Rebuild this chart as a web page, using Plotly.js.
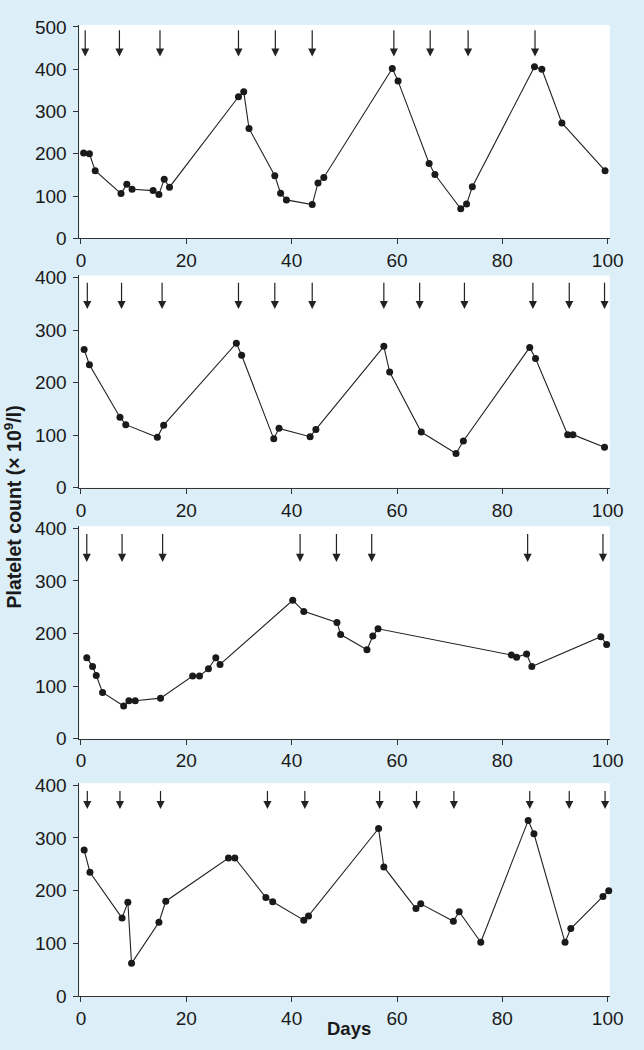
<!DOCTYPE html>
<html>
<head>
<meta charset="utf-8">
<script src="https://cdn.plot.ly/plotly-3.0.1.min.js"></script>
<style>html,body{margin:0;padding:0;background:#dceef7;}#chart{width:644px;height:1050px;}</style>
</head>
<body>
<div id="chart"></div>
<script>
// ---- data (days, platelet counts x10^9/l, arrow days) ----
const p1Days = [0.5,1.6,2.7,7.6,8.7,9.7,13.7,14.8,15.8,16.8,29.9,30.9,31.9,36.8,37.9,39.0,43.9,45.0,46.1,59.1,60.2,66.1,67.2,72.1,73.2,74.3,86.1,87.5,91.3,99.5];
const p1Vals = [202,200,160,106,128,116,113,104,140,121,335,347,260,148,107,91,80,131,144,402,372,177,151,70,81,122,406,400,273,160];
const p1Arrows = [0.8,7.3,15.0,29.9,36.9,43.9,59.4,66.3,73.5,86.2];

const p2Days = [0.6,1.6,7.4,8.5,14.5,15.7,29.5,30.5,36.6,37.6,43.5,44.6,57.5,58.6,64.6,71.2,72.6,85.2,86.3,92.4,93.4,99.4];
const p2Vals = [263,234,134,120,96,119,275,252,93,113,97,111,269,220,106,65,89,267,246,101,101,77];
const p2Arrows = [1.2,7.7,15.4,29.9,36.8,43.9,57.5,64.3,72.8,85.8,92.7,99.4];

const p3Days = [1.1,2.2,2.9,4.1,8.1,9.1,10.3,15.1,21.2,22.5,24.2,25.6,26.4,40.2,42.3,48.6,49.3,54.3,55.4,56.4,81.7,82.7,84.6,85.6,98.7,99.8];
const p3Vals = [154,137,120,88,62,72,72,77,119,119,133,154,141,263,242,221,198,169,195,209,159,155,161,137,194,179];
const p3Arrows = [1.1,7.8,15.5,41.6,48.5,55.2,84.8,99.1];

const p4Days = [0.6,1.7,7.8,8.9,9.6,14.8,16.1,28.0,29.2,35.1,36.4,42.3,43.2,56.5,57.5,63.6,64.5,70.7,71.8,75.9,84.9,86.0,91.9,93.0,99.1,100.2];
const p4Vals = [277,235,148,178,62,140,180,262,262,187,179,144,152,318,245,166,175,142,160,102,333,308,102,128,189,200];
const p4Arrows = [1.2,7.4,15.1,35.4,42.5,56.7,63.7,70.8,85.2,92.7,99.5];

// arrow tail/tip levels per panel
const arrowTail = [496, 393, 392, 392];
const arrowTip  = [430, 340, 336, 355];

const xTicks = [0,20,40,60,80,100];
const yTitle = 'Platelet count (× 10<sup>9</sup>/l)';
const xTitle = 'Days';

// ---- build ----
const panels = [
  {d:p1Days, v:p1Vals, a:p1Arrows, yr:[0,505], dom:[0.7730,0.9763]},
  {d:p2Days, v:p2Vals, a:p2Arrows, yr:[0,404], dom:[0.5355,0.7377]},
  {d:p3Days, v:p3Vals, a:p3Arrows, yr:[0,404], dom:[0.2965,0.4989]},
  {d:p4Days, v:p4Vals, a:p4Arrows, yr:[0,404], dom:[0.0514,0.2541]}
];

const fontFam = '"Liberation Sans", Arial, Helvetica, sans-serif';
const ink = '#1a1a1a';
const traces = [];
const annotations = [];
const layout = {
  width: 644, height: 1050,
  margin: {l:0, r:0, t:0, b:0, pad:0},
  paper_bgcolor: '#dceef7',
  plot_bgcolor: '#ffffff',
  showlegend: false,
  font: {family: fontFam, color: ink}
};

panels.forEach((p, i) => {
  const n = i === 0 ? '' : String(i + 1);
  const xa = 'x' + n, ya = 'y' + n;
  traces.push({
    x: p.d, y: p.v, xaxis: xa, yaxis: ya,
    type: 'scatter', mode: 'lines+markers',
    line: {color: '#222', width: 1.1},
    marker: {color: ink, size: 7},
    hoverinfo: 'skip', cliponaxis: false
  });
  const axCommon = {
    showline: true, linecolor: '#333', linewidth: 1,
    ticks: 'outside', ticklen: 5, tickwidth: 1, tickcolor: '#333',
    showgrid: false, zeroline: false, fixedrange: true,
    tickfont: {family: fontFam, size: 19, color: ink}
  };
  layout['xaxis' + n] = Object.assign({}, axCommon, {
    domain: [0.1233, 0.9469], range: [-0.3, 100.4],
    tickmode: 'array', tickvals: xTicks, ticktext: xTicks.map(String),
    anchor: ya
  });
  layout['yaxis' + n] = Object.assign({}, axCommon, {
    domain: p.dom, range: p.yr, dtick: 100, tick0: 0,
    anchor: xa, ticklabelstandoff: 3
  });
  p.a.forEach(day => {
    annotations.push({
      xref: xa, yref: ya, axref: xa, ayref: ya,
      x: day, y: arrowTip[i], ax: day, ay: arrowTail[i],
      text: '', showarrow: true,
      arrowhead: 2, arrowsize: 1.35, arrowwidth: 1.2, arrowcolor: '#222'
    });
  });
});

annotations.push({
  xref: 'paper', yref: 'paper', x: 12.5/644, y: 1 - 507/1050,
  text: '<b>' + yTitle + '</b>', textangle: -90, showarrow: false,
  font: {family: fontFam, size: 19.5, color: ink},
  xanchor: 'center', yanchor: 'middle'
});
annotations.push({
  xref: 'paper', yref: 'paper', x: 349/644, y: 1 - 1028/1050,
  text: '<b>' + xTitle + '</b>', showarrow: false,
  font: {family: fontFam, size: 18.5, color: ink},
  xanchor: 'center', yanchor: 'middle'
});
layout.annotations = annotations;

Plotly.newPlot('chart', traces, layout, {staticPlot: true, displayModeBar: false});
</script>
</body>
</html>
